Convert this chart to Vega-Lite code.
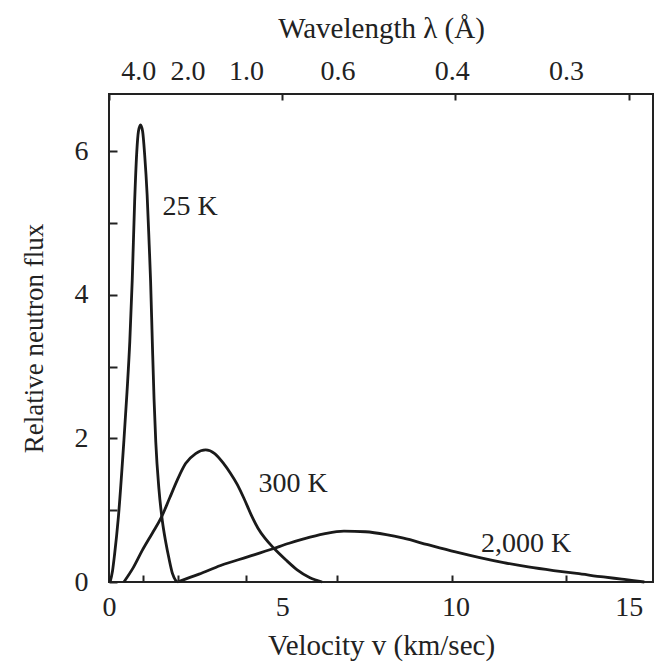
{
  "$schema": "https://vega.github.io/schema/vega-lite/v6.json",
  "width": 544,
  "height": 488,
  "autosize": {"type": "none"},
  "padding": {"left": 109, "top": 94, "right": 7, "bottom": 88},
  "background": "white",
  "config": {
    "view": {"stroke": "#222", "strokeWidth": 2, "fill": "transparent"},
    "font": "Liberation Serif",
    "axis": {
      "labelFont": "Liberation Serif",
      "titleFont": "Liberation Serif",
      "labelColor": "#222",
      "titleColor": "#222",
      "labelFontSize": 28,
      "titleFontSize": 29,
      "titleFontWeight": "normal",
      "domain": false,
      "ticks": true,
      "tickSize": 0,
      "grid": true,
      "gridColor": "#222",
      "gridOpacity": 1,
      "gridWidth": 2,
      "gridCap": "butt",
      "zindex": 2,
      "labelOverlap": false,
      "labelFlush": false
    }
  },
  "datasets": {
    "curves": [
      {"T": "25 K", "v": 0.03, "flux": 0},
      {"T": "25 K", "v": 0.1, "flux": 0.15},
      {"T": "25 K", "v": 0.16, "flux": 0.38},
      {"T": "25 K", "v": 0.27, "flux": 0.9},
      {"T": "25 K", "v": 0.43, "flux": 1.97},
      {"T": "25 K", "v": 0.52, "flux": 2.65},
      {"T": "25 K", "v": 0.6, "flux": 3.35},
      {"T": "25 K", "v": 0.67, "flux": 4.2},
      {"T": "25 K", "v": 0.74, "flux": 5.3},
      {"T": "25 K", "v": 0.8, "flux": 5.98},
      {"T": "25 K", "v": 0.85, "flux": 6.28},
      {"T": "25 K", "v": 0.91, "flux": 6.37},
      {"T": "25 K", "v": 0.97, "flux": 6.28},
      {"T": "25 K", "v": 1.03, "flux": 5.95},
      {"T": "25 K", "v": 1.1, "flux": 5.4},
      {"T": "25 K", "v": 1.16, "flux": 4.7},
      {"T": "25 K", "v": 1.2, "flux": 4.2},
      {"T": "25 K", "v": 1.25, "flux": 3.35},
      {"T": "25 K", "v": 1.3, "flux": 2.55},
      {"T": "25 K", "v": 1.35, "flux": 1.95},
      {"T": "25 K", "v": 1.44, "flux": 1.3},
      {"T": "25 K", "v": 1.54, "flux": 0.85},
      {"T": "25 K", "v": 1.64, "flux": 0.55},
      {"T": "25 K", "v": 1.73, "flux": 0.33},
      {"T": "25 K", "v": 1.83, "flux": 0.12},
      {"T": "25 K", "v": 1.95, "flux": 0},
      {"T": "300 K", "v": 0.43, "flux": 0},
      {"T": "300 K", "v": 0.7, "flux": 0.2},
      {"T": "300 K", "v": 0.96, "flux": 0.44},
      {"T": "300 K", "v": 1.25, "flux": 0.68},
      {"T": "300 K", "v": 1.51, "flux": 0.9},
      {"T": "300 K", "v": 1.75, "flux": 1.17},
      {"T": "300 K", "v": 1.97, "flux": 1.42},
      {"T": "300 K", "v": 2.21, "flux": 1.65},
      {"T": "300 K", "v": 2.5, "flux": 1.79},
      {"T": "300 K", "v": 2.79, "flux": 1.84},
      {"T": "300 K", "v": 3.05, "flux": 1.79},
      {"T": "300 K", "v": 3.31, "flux": 1.65},
      {"T": "300 K", "v": 3.5, "flux": 1.52},
      {"T": "300 K", "v": 3.7, "flux": 1.36},
      {"T": "300 K", "v": 3.9, "flux": 1.16},
      {"T": "300 K", "v": 4.1, "flux": 0.94},
      {"T": "300 K", "v": 4.3, "flux": 0.75},
      {"T": "300 K", "v": 4.5, "flux": 0.61},
      {"T": "300 K", "v": 4.76, "flux": 0.47},
      {"T": "300 K", "v": 5.1, "flux": 0.31},
      {"T": "300 K", "v": 5.43, "flux": 0.17},
      {"T": "300 K", "v": 5.8, "flux": 0.06},
      {"T": "300 K", "v": 6.15, "flux": 0},
      {"T": "2,000 K", "v": 1.97, "flux": 0},
      {"T": "2,000 K", "v": 2.6, "flux": 0.11},
      {"T": "2,000 K", "v": 3.22, "flux": 0.23},
      {"T": "2,000 K", "v": 4.0, "flux": 0.35},
      {"T": "2,000 K", "v": 4.71, "flux": 0.46},
      {"T": "2,000 K", "v": 5.2, "flux": 0.54},
      {"T": "2,000 K", "v": 5.62, "flux": 0.6},
      {"T": "2,000 K", "v": 6.2, "flux": 0.67},
      {"T": "2,000 K", "v": 6.78, "flux": 0.71},
      {"T": "2,000 K", "v": 7.4, "flux": 0.7},
      {"T": "2,000 K", "v": 8.0, "flux": 0.66},
      {"T": "2,000 K", "v": 8.5, "flux": 0.61},
      {"T": "2,000 K", "v": 9.2, "flux": 0.52},
      {"T": "2,000 K", "v": 10.0, "flux": 0.42},
      {"T": "2,000 K", "v": 10.7, "flux": 0.34},
      {"T": "2,000 K", "v": 11.39, "flux": 0.27},
      {"T": "2,000 K", "v": 12.1, "flux": 0.21},
      {"T": "2,000 K", "v": 12.83, "flux": 0.16},
      {"T": "2,000 K", "v": 13.5, "flux": 0.12},
      {"T": "2,000 K", "v": 14.27, "flux": 0.07},
      {"T": "2,000 K", "v": 14.8, "flux": 0.04},
      {"T": "2,000 K", "v": 15.14, "flux": 0.02},
      {"T": "2,000 K", "v": 15.45, "flux": 0}
    ],
    "labels": [
      {"label": "25 K", "v": 2.34, "flux": 5.23},
      {"label": "300 K", "v": 5.31, "flux": 1.37},
      {"label": "2,000 K", "v": 12.04, "flux": 0.53}
    ]
  },
  "layer": [
    {
      "data": {"name": "curves"},
      "mark": {"type": "line", "interpolate": "monotone", "color": "#1a1a1a", "strokeWidth": 2.8},
      "encoding": {
        "x": {
          "field": "v", "type": "quantitative",
          "scale": {"domain": [0, 15.7], "nice": false},
          "axis": {"orient": "bottom", "values": [0, 5, 10, 15], "title": "Velocity v (km/sec)", "zindex": 2, "grid": true, "gridDash": [6, 2000], "labelPadding": 11, "titlePadding": 10}
        },
        "y": {
          "field": "flux", "type": "quantitative",
          "scale": {"domain": [0, 6.8], "nice": false},
          "axis": {"values": [0, 1, 2, 3, 4, 5, 6], "labelExpr": "datum.value % 2 === 0 ? datum.label : ''", "title": "Relative neutron flux", "titleFontSize": 27, "zindex": 2, "grid": true, "gridDash": [8, 2000], "labelPadding": 21, "titlePadding": 26}
        },
        "detail": {"field": "T", "type": "nominal"}
      }
    },
    {
      "data": {"name": "labels"},
      "mark": {"type": "text", "font": "Liberation Serif", "fontSize": 28, "color": "#222"},
      "encoding": {
        "x": {
          "field": "v", "type": "quantitative",
          "axis": {
            "orient": "top",
            "values": [0.989, 1.978, 3.956, 6.593, 9.89, 13.187],
            "labelExpr": "format(3.956 / datum.value, '.1f')",
            "labelOffset": {"condition": [{"test": "datum.value < 1.5", "value": -5}, {"test": "datum.value < 2.5", "value": 10}], "value": 0},
            "title": "Wavelength λ (Å)",
            "zindex": 2,
            "grid": true,
            "gridDash": [7, 2000],
            "labelPadding": 9, "titlePadding": 14
          }
        },
        "y": {"field": "flux", "type": "quantitative", "axis": null},
        "text": {"field": "label", "type": "nominal"}
      }
    }
  ],
  "resolve": {"axis": {"x": "independent", "y": "independent"}}
}
